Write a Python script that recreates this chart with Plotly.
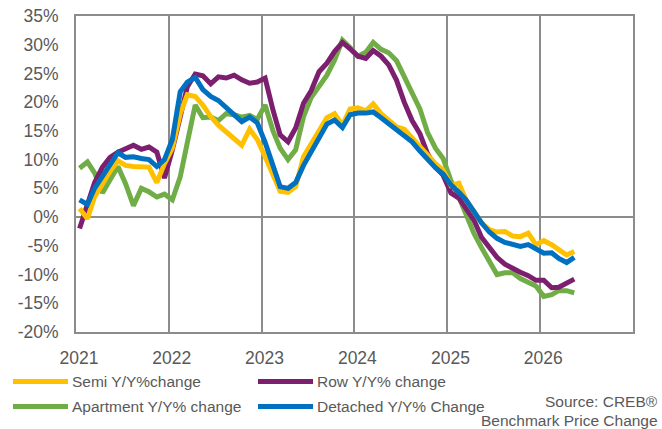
import pandas as pd
import plotly.graph_objects as go

# Monthly year-over-year benchmark price change (%), Jan 2021 - May 2026,
# each value plotted mid-month
months = pd.date_range("2021-01-01", periods=65, freq="MS") + pd.Timedelta(days=14)

semi = [1.5, -0.3, 3.5, 6.0, 8.0, 9.8, 9.0, 8.8, 8.8, 8.7, 6.0, 9.3,
        12.0, 18.0, 21.3, 21.0, 19.5, 17.5, 16.0, 14.8, 13.8, 12.5, 15.3, 13.5,
        10.5, 7.5, 4.5, 4.3, 5.3, 10.5, 12.7, 15.0, 17.3, 18.0, 16.0, 18.8,
        19.0, 18.5, 19.7, 18.0, 17.0, 15.7, 15.3, 13.8, 12.2, 10.8, 9.3, 8.2,
        5.5, 5.9, 3.0, 1.0, -1.0, -2.2, -2.6, -2.5, -3.3, -3.4, -2.8, -4.8,
        -4.1, -4.8, -5.6, -6.6, -6.0]

row = [-2.0, 2.5, 6.0, 8.7, 10.4, 11.3, 12.0, 12.5, 11.8, 12.2, 11.3, 6.8,
       11.7, 17.2, 22.7, 24.9, 24.6, 23.2, 24.4, 24.2, 24.7, 23.9, 23.3, 23.5,
       24.2, 18.6, 14.3, 13.1, 15.5, 19.8, 22.0, 25.3, 26.8, 28.8, 30.4, 29.3,
       28.0, 27.6, 29.0, 28.0, 26.5, 23.8, 20.0, 16.8, 14.5, 11.0, 8.7, 7.3,
       4.2, 3.3, 1.5, -0.5, -3.5, -5.4, -7.0, -8.2, -9.0, -9.6, -10.2, -11.0,
       -11.0, -12.3, -12.2, -11.4, -10.8]

apartment = [8.5, 9.6, 7.7, 4.2, 6.5, 8.8, 5.8, 2.0, 5.0, 4.4, 3.5, 4.0,
             3.0, 7.0, 13.0, 19.5, 17.3, 17.4, 16.8, 18.0, 17.8, 17.4, 17.7, 17.0,
             19.5, 15.0, 12.0, 10.0, 11.7, 17.5, 20.8, 22.8, 24.7, 27.3, 30.8, 29.5,
             28.0, 28.7, 30.4, 29.2, 28.6, 27.2, 24.5, 21.5, 18.8, 14.7, 12.0, 10.2,
             6.3, 3.5, 0.5, -2.8, -5.3, -7.6, -10.0, -9.7, -9.7, -10.7, -11.4, -12.0,
             -13.8, -13.5, -12.8, -12.8, -13.2]

detached = [3.0, 2.2, 5.0, 7.0, 9.0, 11.2, 10.4, 10.5, 10.2, 10.0, 8.8, 10.0,
            13.5, 21.8, 23.5, 24.3, 22.2, 21.0, 20.3, 19.0, 17.8, 16.6, 17.4, 16.4,
            13.0, 9.0, 5.3, 5.0, 6.0, 9.0, 11.4, 14.0, 16.2, 16.9, 15.6, 17.8,
            18.1, 18.1, 18.3, 17.3, 16.3, 15.2, 14.1, 13.1, 11.5, 10.0, 8.6, 7.5,
            5.6, 4.3, 3.0, 1.0, -1.0, -2.6, -3.7, -4.4, -4.7, -5.1, -4.8, -5.6,
            -6.3, -6.2, -7.2, -7.9, -7.0]

y_ticks = [-20, -15, -10, -5, 0, 5, 10, 15, 20, 25, 30, 35]
y_labels = ["-20%", "-15%", "-10%", "-5%", "0%", "5%", "10%", "15%", "20%", "25%", "30%", "35%"]
year_ticks = ["2021-01-01", "2022-01-01", "2023-01-01", "2024-01-01", "2025-01-01", "2026-01-01"]
year_labels = ["2021", "2022", "2023", "2024", "2025", "2026"]

FONT = "Liberation Sans, Arial, sans-serif"
TEXT = "#595959"
GRID = "#8c8c8c"

# name, values, colour, legend slot (column, row)
series = [
    ("Semi Y/Y%change", semi, "#FFC000", (0, 0)),
    ("Row Y/Y% change", row, "#7B1F6E", (1, 0)),
    ("Apartment Y/Y% change", apartment, "#70AD47", (0, 1)),
    ("Detached Y/Y% Change", detached, "#0070C0", (1, 1)),
]

fig = go.Figure()
# draw order: green and purple underneath, yellow and blue on top
for idx in [2, 1, 0, 3]:
    name, vals, color, _ = series[idx]
    fig.add_trace(go.Scatter(
        x=months, y=vals, name=name, mode="lines",
        line=dict(color=color, width=5), showlegend=False,
    ))

# plot area: left 76 px, top 16 px, 557 x 316 px inside a 662 x 429 page
PL, PT, PW, PH = 76, 16, 557, 316


def px_x(px):
    return (px - PL) / PW


def px_y(py):
    return (PT + PH - py) / PH


# two-row legend below the axis: long line swatch followed by the label
LEG_COL_X = [13, 258]
LEG_ROW_Y = [381.5, 406.5]
SWATCH = 55
shapes, annotations = [], []
for name, _, color, (col, rw) in series:
    x0 = LEG_COL_X[col]
    yy = px_y(LEG_ROW_Y[rw])
    shapes.append(dict(
        type="line", xref="paper", yref="paper",
        x0=px_x(x0), x1=px_x(x0 + SWATCH), y0=yy, y1=yy,
        line=dict(color=color, width=5),
    ))
    annotations.append(dict(
        text=name, xref="paper", yref="paper",
        x=px_x(x0 + SWATCH + 2), y=yy, xanchor="left", yanchor="middle",
        showarrow=False, font=dict(family=FONT, size=15.5, color=TEXT),
    ))

for text, py in [("Source: CREB®", 401.5), ("Benchmark Price Change", 420)]:
    annotations.append(dict(
        text=text, xref="paper", yref="paper", x=px_x(659), y=px_y(py),
        xanchor="right", yanchor="middle", showarrow=False, borderpad=0,
        font=dict(family=FONT, size=15.5, color=TEXT),
    ))

fig.update_layout(
    width=662, height=429,
    margin=dict(l=PL, r=662 - PL - PW, t=PT, b=429 - PT - PH, autoexpand=False),
    paper_bgcolor="white", plot_bgcolor="white",
    font=dict(family=FONT, color=TEXT),
    showlegend=False,
    xaxis=dict(
        type="date", range=["2021-01-01", "2027-01-01"],
        tickvals=year_ticks, ticktext=year_labels,
        showgrid=True, gridcolor=GRID, gridwidth=2,
        showline=True, linecolor=GRID, linewidth=2, mirror=True,
        ticks="", ticklabelstandoff=9, ticklabelshift=3,
        tickfont=dict(family=FONT, size=17.5, color=TEXT),
        zeroline=False, automargin=False,
    ),
    yaxis=dict(
        range=[-20, 35], tickvals=y_ticks, ticktext=y_labels,
        showgrid=False, zeroline=True, zerolinecolor=GRID, zerolinewidth=2,
        showline=True, linecolor=GRID, linewidth=2, mirror=True,
        ticks="", ticklabelstandoff=12, automargin=False,
        tickfont=dict(family=FONT, size=17.5, color=TEXT),
    ),
    shapes=shapes,
    annotations=annotations,
)

fig.write_html("out.html")
